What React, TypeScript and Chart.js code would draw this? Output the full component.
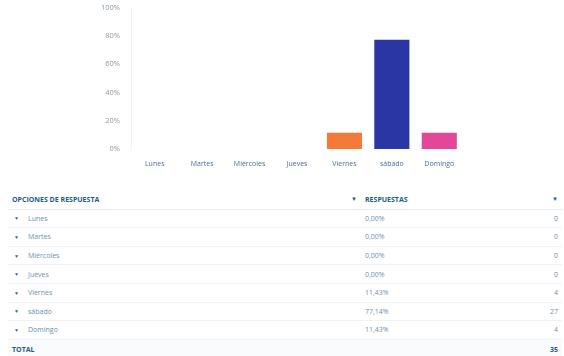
import React, { useEffect, useRef } from "react";
import { Chart, registerables } from "chart.js";

Chart.register(...registerables);

const categories = ["Lunes", "Martes", "Miércoles", "Jueves", "Viernes", "sábado", "Domingo"];
const percents = [0, 0, 0, 0, 11.43, 77.14, 11.43];
const percentLabels = ["0,00%", "0,00%", "0,00%", "0,00%", "11,43%", "77,14%", "11,43%"];
const counts = [0, 0, 0, 0, 4, 27, 4];
const total = 35;
const barColors = ["#f47a3a", "#f47a3a", "#f47a3a", "#f47a3a", "#f47a3a", "#2a36a3", "#e2479a"];
const yTicks = [0, 20, 40, 60, 80, 100];

const FONT = "'Open Sans', 'Noto Sans', sans-serif";
const HEAD = "#1d5a8c";
const BODY = "#6f8fab";

export default function App() {
  const ref = useRef<HTMLCanvasElement | null>(null);
  useEffect(() => {
    const chart = new Chart(ref.current!, {
      type: "bar",
      data: {
        labels: categories,
        datasets: [{ data: percents, backgroundColor: barColors, barPercentage: 0.74, categoryPercentage: 1 }],
      },
      options: {
        animation: false,
        responsive: false,
        maintainAspectRatio: false,
        layout: { padding: { left: 80, right: 101, top: 5, bottom: 0 } },
        plugins: { legend: { display: false }, tooltip: { enabled: false } },
        scales: {
          x: {
            grid: { display: false },
            border: { display: false },
            ticks: { color: "#4a6f96", font: { size: 7, family: FONT }, maxRotation: 0, padding: 3 },
            afterFit: (s: any) => { s.height = 20; },
          },
          y: {
            min: 0,
            max: 100,
            afterBuildTicks: (s: any) => { s.ticks = yTicks.map((v) => ({ value: v })); },
            grid: { display: false },
            border: { display: true, color: "#f1f1f1" },
            ticks: { color: "#8a9aaa", font: { size: 7.5, family: FONT }, padding: 3, callback: (v: any) => v + "%" },
            afterFit: (s: any) => { s.width = 51; },
          },
        },
      },
    });
    return () => chart.destroy();
  }, []);

  const rowH = 18.6;
  const arrow = (color: string) => (
    <span style={{ fontSize: 6, color }}>▼</span>
  );

  return (
    <div style={{ position: "fixed", left: 0, top: 0, width: 564, height: 356, background: "#fff", fontFamily: FONT, overflow: "hidden" }}>
      <canvas ref={ref} width={564} height={169} style={{ position: "absolute", left: 0, top: 0, width: 564, height: 169 }} />
      <div style={{ position: "absolute", left: 8, top: 191, width: 554 }}>
        <div style={{ display: "flex", height: rowH, boxSizing: "border-box", alignItems: "center", borderBottom: "1px solid #e8ecf0", fontSize: 7, fontWeight: 700, color: HEAD }}>
          <div style={{ width: 349, paddingLeft: 4, display: "flex", justifyContent: "space-between", boxSizing: "border-box" }}>
            <span>OPCIONES DE RESPUESTA</span>
            {arrow(HEAD)}
          </div>
          <div style={{ flex: 1, paddingLeft: 8, display: "flex", justifyContent: "space-between", paddingRight: 4 }}>
            <span>RESPUESTAS</span>
            {arrow(HEAD)}
          </div>
        </div>
        {categories.map((c, i) => (
          <div key={c} style={{ display: "flex", height: rowH, boxSizing: "border-box", alignItems: "center", borderBottom: "1px solid #f0f2f5", fontSize: 7, color: BODY }}>
            <div style={{ width: 349, paddingLeft: 6, boxSizing: "border-box", display: "flex", alignItems: "center" }}>
              <span style={{ fontSize: 5, color: "#3a5f86", width: 14 }}>▼</span>
              <span>{c}</span>
            </div>
            <div style={{ flex: 1, paddingLeft: 8, display: "flex", justifyContent: "space-between", paddingRight: 4 }}>
              <span>{percentLabels[i]}</span>
              <span>{counts[i]}</span>
            </div>
          </div>
        ))}
        <div style={{ display: "flex", height: rowH, boxSizing: "border-box", alignItems: "center", fontSize: 7, fontWeight: 700, color: HEAD, background: "#fafbfc" }}>
          <div style={{ width: 349, paddingLeft: 4, boxSizing: "border-box" }}>TOTAL</div>
          <div style={{ flex: 1, display: "flex", justifyContent: "flex-end", paddingRight: 4 }}>{total}</div>
        </div>
      </div>
    </div>
  );
}
